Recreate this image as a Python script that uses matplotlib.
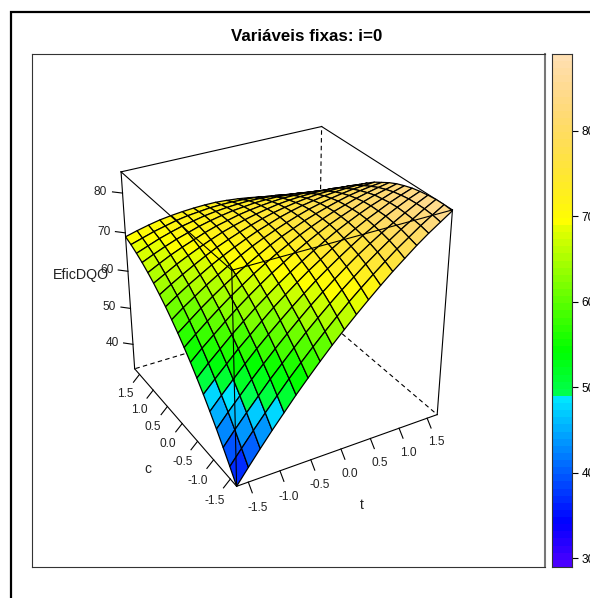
import colorsys

import matplotlib
matplotlib.use("Agg")
import matplotlib.pyplot as plt
import numpy as np
from matplotlib.patches import Rectangle

plt.rcParams["font.family"] = ["Liberation Sans", "DejaVu Sans"]

# grid of the surface, same steps on both factors
t_values = [-1.682, -1.495, -1.308, -1.121, -0.934, -0.748, -0.561, -0.374, -0.187, 0.0,
            0.187, 0.374, 0.561, 0.748, 0.934, 1.121, 1.308, 1.495, 1.682]
c_values = [-1.682, -1.495, -1.308, -1.121, -0.934, -0.748, -0.561, -0.374, -0.187, 0.0,
            0.187, 0.374, 0.561, 0.748, 0.934, 1.121, 1.308, 1.495, 1.682]

# EficDQO, one row per c value, columns follow t
efic_dqo = [
    [33.0, 36.9, 40.7, 44.4, 47.9, 51.4, 54.7, 57.9, 61.0, 63.9, 66.7, 69.4, 72.0, 74.5, 76.8, 79.1, 81.2, 83.1, 85.0],
    [36.3, 40.0, 43.6, 47.1, 50.5, 53.8, 56.9, 59.9, 62.8, 65.6, 68.3, 70.8, 73.2, 75.5, 77.7, 79.7, 81.7, 83.5, 85.2],
    [39.4, 43.0, 46.4, 49.7, 53.0, 56.0, 59.0, 61.9, 64.6, 67.2, 69.7, 72.0, 74.3, 76.4, 78.4, 80.3, 82.0, 83.7, 85.2],
    [42.4, 45.8, 49.0, 52.2, 55.2, 58.1, 60.9, 63.6, 66.2, 68.6, 70.9, 73.1, 75.2, 77.1, 78.9, 80.6, 82.2, 83.7, 85.0],
    [45.2, 48.4, 51.5, 54.5, 57.4, 60.1, 62.7, 65.2, 67.6, 69.9, 72.0, 74.0, 75.9, 77.7, 79.3, 80.9, 82.3, 83.6, 84.7],
    [47.9, 50.9, 53.8, 56.7, 59.3, 61.9, 64.4, 66.7, 68.9, 71.0, 72.9, 74.8, 76.5, 78.1, 79.6, 80.9, 82.2, 83.3, 84.3],
    [50.4, 53.3, 56.0, 58.7, 61.2, 63.6, 65.8, 68.0, 70.0, 71.9, 73.7, 75.4, 77.0, 78.4, 79.7, 80.9, 81.9, 82.9, 83.7],
    [52.8, 55.5, 58.0, 60.5, 62.9, 65.1, 67.2, 69.2, 71.0, 72.8, 74.4, 75.9, 77.3, 78.5, 79.6, 80.7, 81.6, 82.3, 83.0],
    [55.0, 57.5, 59.9, 62.2, 64.4, 66.4, 68.4, 70.2, 71.9, 73.4, 74.9, 76.2, 77.4, 78.5, 79.4, 80.3, 81.0, 81.6, 82.1],
    [57.1, 59.4, 61.7, 63.8, 65.8, 67.6, 69.4, 71.0, 72.6, 74.0, 75.2, 76.4, 77.4, 78.3, 79.1, 79.8, 80.3, 80.7, 81.0],
    [59.0, 61.2, 63.2, 65.2, 67.0, 68.7, 70.3, 71.8, 73.1, 74.3, 75.4, 76.4, 77.3, 78.0, 78.6, 79.1, 79.5, 79.7, 79.9],
    [60.8, 62.8, 64.7, 66.4, 68.1, 69.6, 71.0, 72.3, 73.5, 74.5, 75.5, 76.3, 77.0, 77.5, 78.0, 78.3, 78.5, 78.6, 78.5],
    [62.4, 64.2, 65.9, 67.5, 69.0, 70.4, 71.6, 72.7, 73.7, 74.6, 75.4, 76.0, 76.5, 76.9, 77.2, 77.3, 77.4, 77.3, 77.0],
    [63.9, 65.5, 67.1, 68.5, 69.8, 71.0, 72.1, 73.0, 73.8, 74.5, 75.1, 75.6, 75.9, 76.1, 76.2, 76.2, 76.1, 75.8, 75.4],
    [65.2, 66.7, 68.1, 69.3, 70.4, 71.5, 72.4, 73.1, 73.8, 74.3, 74.7, 75.0, 75.2, 75.2, 75.1, 74.9, 74.6, 74.2, 73.6],
    [66.4, 67.7, 68.9, 70.0, 70.9, 71.8, 72.5, 73.1, 73.6, 73.9, 74.2, 74.3, 74.3, 74.1, 73.9, 73.5, 73.0, 72.4, 71.7],
    [67.4, 68.5, 69.6, 70.5, 71.3, 71.9, 72.5, 72.9, 73.2, 73.4, 73.5, 73.4, 73.2, 72.9, 72.5, 72.0, 71.3, 70.5, 69.6],
    [68.3, 69.2, 70.1, 70.8, 71.5, 72.0, 72.3, 72.6, 72.7, 72.7, 72.6, 72.4, 72.0, 71.6, 71.0, 70.3, 69.4, 68.5, 67.4],
    [69.0, 69.8, 70.5, 71.1, 71.5, 71.8, 72.0, 72.1, 72.1, 71.9, 71.6, 71.2, 70.7, 70.0, 69.3, 68.4, 67.4, 66.3, 65.0],
]

axis_ticks = [-1.5, -1.0, -0.5, 0.0, 0.5, 1.0, 1.5]
z_ticks = [40, 50, 60, 70, 80]
bar_ticks = [30, 40, 50, 60, 70, 80]
z_lim = (33.0, 85.2)
bar_lim = (29.0, 89.0)

W, H = 590, 598
LIM = t_values[-1]


def topo_colors(n):
    j = k = n // 3
    i = n - j - k
    cols = [colorsys.hsv_to_rgb(h, 1, 1) for h in np.linspace(43 / 60, 31 / 60, i)]
    cols += [colorsys.hsv_to_rgb(h, 1, 1) for h in np.linspace(23 / 60, 11 / 60, j)]
    cols += [colorsys.hsv_to_rgb(h, s, 1) for h, s in zip(np.linspace(10 / 60, 6 / 60, k), np.linspace(1, 0.3, k))]
    return np.array(cols)


def rect_from_px(x0, y0, x1, y1):
    return [x0 / W, 1 - y1 / H, (x1 - x0) / W, (y1 - y0) / H]


palette = topo_colors(72)
fig = plt.figure(figsize=(W / 100, H / 100), dpi=100)

fig.add_artist(Rectangle((11 / W, -0.1), 1.2, 1.1 - 12 / H, fill=False, ec="black", lw=1.6, transform=fig.transFigure))

frame = fig.add_axes(rect_from_px(32, 54, 545, 567))
frame.set_xticks([])
frame.set_yticks([])
for side in frame.spines.values():
    side.set_linewidth(0.8)
    side.set_color("#333333")
frame.spines["right"].set_linewidth(1.5)
frame.spines["right"].set_color("#777777")
frame.set_title("Variáveis fixas: i=0", fontsize=12.2, fontweight="bold", pad=9.5, x=0.536)

bar = fig.add_axes(rect_from_px(552, 54, 572, 567))
bar.imshow(palette[::-1, None, :], extent=(0, 1, bar_lim[0], bar_lim[1]), aspect="auto")
bar.set_xticks([])
bar.yaxis.tick_right()
bar.set_yticks(bar_ticks)
bar.tick_params(axis="y", length=4, width=0.8, labelsize=8.6, pad=3)
for side in bar.spines.values():
    side.set_linewidth(0.8)
    side.set_color("#333333")

# centre of the box sits at the centre of this square
side_px = 389
cx, cy = 276.5, 300.5
ax = fig.add_axes(rect_from_px(cx - side_px / 2, cy - side_px / 2, cx + side_px / 2, cy + side_px / 2), projection="3d", computed_zorder=False)
ax.patch.set_alpha(0)
ax.set_axis_off()
ax.view_init(elev=30, azim=-120)
ax.set_proj_type("persp", focal_length=0.605)
ax.set_box_aspect((1, 1, 1))
ax.set_xlim(-LIM, LIM)
ax.set_ylim(-LIM, LIM)
ax.set_zlim(*z_lim)

zlo, zhi = z_lim


def seg(p, q, **kw):
    kw.setdefault("color", "black")
    kw.setdefault("lw", 0.8)
    ax.plot([p[0], q[0]], [p[1], q[1]], [p[2], q[2]], clip_on=False, **kw)


def label(x, y, z, s, size):
    ax.text(x, y, z, s, fontsize=size, ha="center", va="center_baseline", color="#222222")


# hidden edges go under the surface
back = (LIM, LIM, zlo)
for p in [(-LIM, LIM, zlo), (LIM, -LIM, zlo), (LIM, LIM, zhi)]:
    seg(back, p, ls=(0, (4, 3)), zorder=1)
seg((-LIM, LIM, zhi), (LIM, LIM, zhi), zorder=1)
seg((LIM, -LIM, zhi), (LIM, LIM, zhi), zorder=1)

T, C = np.meshgrid(t_values, c_values)
Z = np.array(efic_dqo)
mean_z = (Z[:-1, :-1] + Z[1:, :-1] + Z[:-1, 1:] + Z[1:, 1:]) / 4
idx = np.clip(((mean_z - bar_lim[0]) / (bar_lim[1] - bar_lim[0]) * len(palette)).astype(int), 0, len(palette) - 1)
ax.plot_surface(T, C, Z, rstride=1, cstride=1, facecolors=palette[idx], edgecolor="black", linewidth=0.9, shade=False, zorder=2)

# front edges are drawn over it
seg((-LIM, -LIM, zlo), (-LIM, -LIM, zhi), zorder=3)
seg((-LIM, -LIM, zhi), (-LIM, LIM, zhi), zorder=3)
seg((-LIM, -LIM, zhi), (LIM, -LIM, zhi), zorder=3)
seg((-LIM, -LIM, zlo), (LIM, -LIM, zlo), zorder=3)
seg((-LIM, -LIM, zlo), (-LIM, LIM, zlo), zorder=3)
seg((-LIM, LIM, zlo), (-LIM, LIM, zhi), zorder=3)
seg((LIM, -LIM, zlo), (LIM, -LIM, zhi), zorder=3)

d_xy = 0.065 * LIM
d_z = 0.065 * (zhi - zlo) / 2
fs = 8.6
for t in axis_ticks:
    seg((t, -LIM, zlo), (t, -LIM - d_xy, zlo - d_z), zorder=3)
    label(t, -LIM - 2.3 * d_xy, zlo - 2.3 * d_z, f"{t:.1f}", fs)
for c in axis_ticks:
    seg((-LIM, c, zlo), (-LIM - d_xy, c, zlo - d_z), zorder=3)
    label(-LIM - 2.3 * d_xy, c, zlo - 2.3 * d_z, f"{c:.1f}", fs)
for z in z_ticks:
    seg((-LIM, LIM, z), (-LIM - d_xy, LIM + d_xy, z), zorder=3)
    label(-LIM - 2.2 * d_xy, LIM + 2.2 * d_xy, z, str(z), fs)
label(0, -LIM - 5.3 * d_xy, zlo - 5.3 * d_z, "t", 10)
label(-LIM - 5.3 * d_xy, 0, zlo - 5.3 * d_z, "c", 10)
label(-LIM - 5 * d_xy, LIM + 5 * d_xy, (zlo + zhi) / 2 - 1.5, "EficDQO", 10.3)

fig.savefig("out.png", dpi=100)
